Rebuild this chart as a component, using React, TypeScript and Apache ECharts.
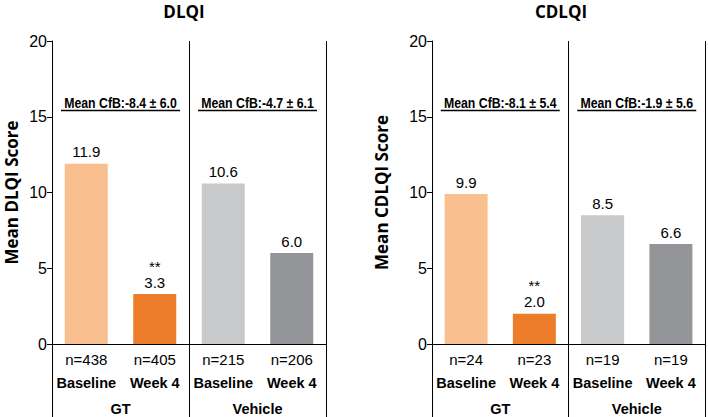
import React, { useEffect, useRef } from "react";
import * as echarts from "echarts";

const categories = ["Baseline", "Week 4", "Baseline", "Week 4"];
const groups = ["GT", "Vehicle"];
const titles = ["DLQI", "CDLQI"];
const yNames = ["Mean DLQI Score", "Mean CDLQI Score"];
const dlqiValues = [11.9, 3.3, 10.6, 6.0];
const dlqiN = ["n=438", "n=405", "n=215", "n=206"];
const dlqiCfb = ["Mean CfB:-8.4 ± 6.0", "Mean CfB:-4.7 ± 6.1"];
const cdlqiValues = [9.9, 2.0, 8.5, 6.6];
const cdlqiN = ["n=24", "n=23", "n=19", "n=19"];
const cdlqiCfb = ["Mean CfB:-8.1 ± 5.4", "Mean CfB:-1.9 ± 5.6"];
const significant = [false, true, false, false];
const yMin = 0;
const yMax = 20;
const yStep = 5;

const barColors = ["#FABF8E", "#EE7D2B", "#C8C9CA", "#939598"];
const FONT = "'Liberation Sans', Arial, sans-serif";
const BOLD_TITLE = "'Open Sans', 'Noto Sans', sans-serif";

export default function App() {
  const ref = useRef<HTMLDivElement>(null);
  useEffect(() => {
    if (!ref.current) return;
    const chart = echarts.init(ref.current, undefined, { renderer: "svg" });
    const charts = [
      { values: dlqiValues, n: dlqiN, cfb: dlqiCfb },
      { values: cdlqiValues, n: cdlqiN, cfb: cdlqiCfb },
    ];
    const grids = [
      { left: 52, top: 41, width: 274, height: 303 },
      { left: 432, top: 41, width: 273, height: 303 },
    ];
    const titleCenters = [184, 561];
    const nameGaps = [32, 42];
    const xAxes: any[] = [];
    const yAxes: any[] = [];
    const series: any[] = [];
    charts.forEach((c, i) => {
      xAxes.push({
        type: "category",
        gridIndex: i,
        data: categories,
        position: "bottom",
        axisLine: { lineStyle: { color: "#000", width: 1 } },
        axisTick: { show: false },
        axisLabel: {
          interval: 0,
          margin: 3,
          color: "#000",
          formatter: (v: string, idx: number) => `{n|${c.n[idx]}}\n{b|${v}}`,
          rich: {
            n: { fontFamily: FONT, fontSize: 15, lineHeight: 24, color: "#000" },
            b: { fontFamily: FONT, fontSize: 14.5, fontWeight: "bold", lineHeight: 24, color: "#000" },
          },
        },
      });
      xAxes.push({
        type: "category",
        gridIndex: i,
        data: groups,
        position: "bottom",
        axisLine: { show: false },
        axisTick: { show: true, length: 76, lineStyle: { color: "#000", width: 1 } },
        axisLabel: { interval: 0, margin: 57, fontFamily: FONT, fontWeight: "bold", fontSize: 14.5, color: "#000" },
        splitLine: { show: true, lineStyle: { color: "#000", width: 1 } },
      });
      yAxes.push({
        type: "value",
        gridIndex: i,
        min: yMin,
        max: yMax,
        interval: yStep,
        axisLine: { show: true, lineStyle: { color: "#000", width: 1 } },
        axisTick: { show: true, length: 5, lineStyle: { color: "#000" } },
        axisLabel: { fontFamily: FONT, fontSize: 16, color: "#000", margin: 5 },
        splitLine: { show: false },
        name: yNames[i],
        nameLocation: "middle",
        nameGap: nameGaps[i],
        nameTextStyle: { fontFamily: BOLD_TITLE, fontWeight: "bold", fontSize: 17, color: "#000" },
      });
      series.push({
        type: "bar",
        xAxisIndex: i * 2,
        yAxisIndex: i,
        barWidth: 43,
        data: c.values.map((v, k) => ({ value: v, itemStyle: { color: barColors[k] } })),
        label: {
          show: true,
          position: "top",
          distance: 4,
          fontFamily: FONT,
          fontSize: 15,
          lineHeight: 16,
          color: "#000",
          formatter: (p: any) =>
            significant[p.dataIndex] ? `**\n${Number(p.value).toFixed(1)}` : Number(p.value).toFixed(1),
        },
      });
    });
    chart.setOption({
      animation: false,
      backgroundColor: "#fff",
      title: titles.map((t, i) => ({
        text: t,
        left: titleCenters[i],
        top: 1,
        padding: 0,
        textAlign: "center",
        textStyle: { fontFamily: BOLD_TITLE, fontWeight: "bold", fontSize: 17, lineHeight: 20, color: "#000" },
      })),
      grid: grids,
      xAxis: xAxes,
      yAxis: yAxes,
      series,
    });

    // "Mean CfB" annotations, placed above each group through the library's scales
    const elements: any[] = [];
    charts.forEach((c, i) => {
      groups.forEach((g, gi) => {
        const cx = chart.convertToPixel({ xAxisIndex: i * 2 + 1 }, g) as number;
        const top = grids[i].top;
        elements.push({
          type: "text",
          x: cx,
          y: top + 62,
          scaleX: 0.82,
          style: {
            text: c.cfb[gi],
            fontFamily: FONT,
            fontWeight: "bold",
            fontSize: 15,
            fill: "#000",
            textAlign: "center",
            textVerticalAlign: "middle",
            align: "center",
            verticalAlign: "middle",
          },
        });
        elements.push({
          type: "line",
          shape: { x1: cx - 59.5, y1: top + 69.5, x2: cx + 59.5, y2: top + 69.5 },
          style: { stroke: "#000", lineWidth: 1.5 },
        });
      });
    });
    chart.setOption({ graphic: { elements } });
    return () => chart.dispose();
  }, []);
  return <div ref={ref} style={{ width: 708, height: 417, position: "absolute", left: 0, top: 0 }} />;
}
